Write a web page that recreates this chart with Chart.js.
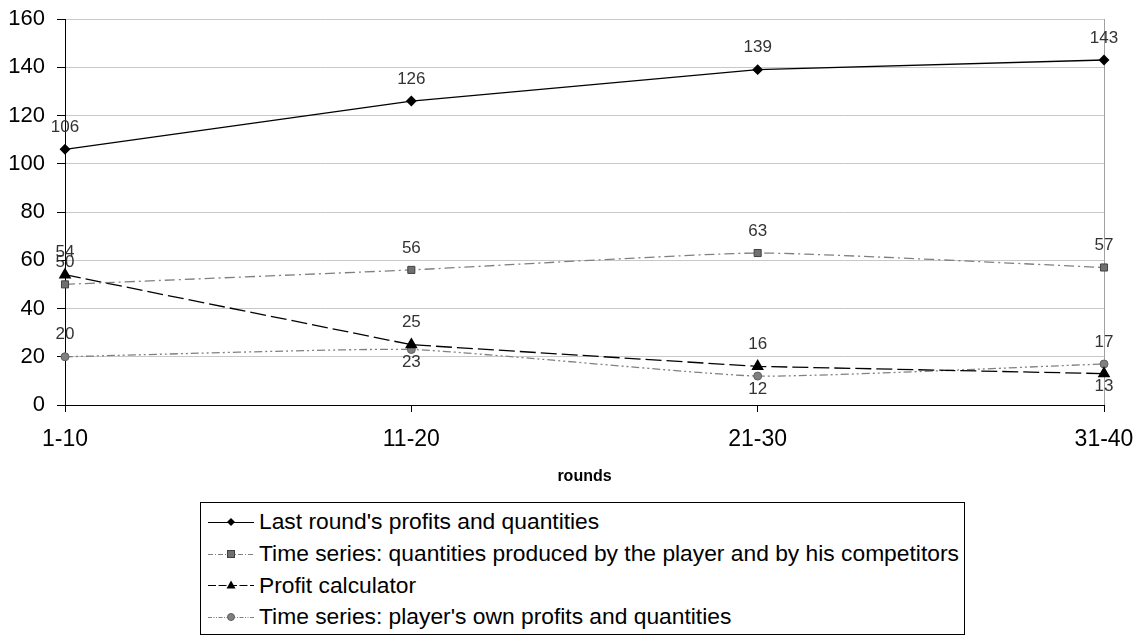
<!DOCTYPE html>
<html>
<head>
<meta charset="utf-8">
<script src="https://cdn.jsdelivr.net/npm/chart.js@4.4.0/dist/chart.umd.min.js"></script>
<style>
  html, body { margin: 0; padding: 0; background: #fff; }
  body { width: 1142px; height: 635px; position: relative; overflow: hidden; font-family: "Liberation Sans", Arial, sans-serif; }
  #wrap { position: absolute; left: 0; top: 0; width: 1142px; height: 495px; }
  #legend { position: absolute; left: 200px; top: 502px; width: 763px; height: 128px; border: 1px solid #000; padding-top: 3px; box-sizing: content-box; }
  .row { height: 31.7px; display: flex; align-items: center; font-size: 22.8px; color: #000; white-space: nowrap; }
  .row svg { margin-left: 7px; margin-right: 5px; flex: none; }
</style>
</head>
<body>
<div id="wrap"><canvas id="chart" width="1142" height="495"></canvas></div>
<div id="legend"></div>
<script>
// data
const rounds = ['1-10', '11-20', '21-30', '31-40'];
const lastRound = [106, 126, 139, 143];
const timeSeriesQty = [50, 56, 63, 57];
const profitCalc = [54, 25, 16, 13];
const timeSeriesOwn = [20, 23, 12, 17];

const seriesNames = [
    "Last round's profits and quantities",
    'Time series: quantities produced by the player and by his competitors',
    'Profit calculator',
    "Time series: player's own profits and quantities"
];

// draws the value labels next to each point
const valueLabels = {
    id: 'valueLabels',
    afterDatasetsDraw(chart) {
        const ctx = chart.ctx;
        ctx.save();
        ctx.font = '17px "Liberation Sans", Arial, sans-serif';
        ctx.fillStyle = '#333';
        ctx.textAlign = 'center';
        ctx.textBaseline = 'middle';
        chart.data.datasets.forEach((ds, i) => {
            const meta = chart.getDatasetMeta(i);
            meta.data.forEach((pt, j) => {
                const below = ds.labelPos && ds.labelPos[j] === 'below';
                ctx.fillText(String(ds.data[j]), pt.x, below ? pt.y + 13 : pt.y - 22);
            });
        });
        ctx.restore();
    }
};

// gray right border of the plot area
const rightBorder = {
    id: 'rightBorder',
    beforeDatasetsDraw(chart) {
        const { ctx, chartArea } = chart;
        ctx.save();
        ctx.strokeStyle = '#a0a0a0';
        ctx.lineWidth = 1;
        ctx.beginPath();
        ctx.moveTo(Math.round(chartArea.right) + 0.5, chartArea.top);
        ctx.lineTo(Math.round(chartArea.right) + 0.5, chartArea.bottom);
        ctx.stroke();
        ctx.restore();
    }
};

const datasets = [
    {
        label: seriesNames[0],
        data: lastRound,
        borderColor: '#000',
        borderWidth: 1.3,
        pointStyle: 'rectRot',
        pointRadius: 4.5,
        pointBackgroundColor: '#000',
        pointBorderColor: '#000',
        tension: 0,
        labelPos: ['above', 'above', 'above', 'above']
    },
    {
        label: seriesNames[1],
        data: timeSeriesQty,
        borderColor: '#808080',
        borderWidth: 1.3,
        borderDash: [10, 4, 2, 4],
        pointStyle: 'rect',
        pointRadius: 5,
        pointBackgroundColor: '#707070',
        pointBorderColor: '#404040',
        pointBorderWidth: 1,
        tension: 0.15,
        labelPos: ['above', 'above', 'above', 'above']
    },
    {
        label: seriesNames[2],
        data: profitCalc,
        borderColor: '#000',
        borderWidth: 1.3,
        borderDash: [16, 5],
        pointStyle: 'triangle',
        pointRadius: 6,
        pointBackgroundColor: '#000',
        pointBorderColor: '#000',
        tension: 0,
        labelPos: ['above', 'above', 'above', 'below']
    },
    {
        label: seriesNames[3],
        data: timeSeriesOwn,
        borderColor: '#808080',
        borderWidth: 1.3,
        borderDash: [8, 3, 2, 3, 2, 3],
        pointStyle: 'circle',
        pointRadius: 4,
        pointBackgroundColor: '#808080',
        pointBorderColor: '#606060',
        pointBorderWidth: 1,
        tension: 0.15,
        labelPos: ['above', 'below', 'below', 'above']
    }
];
datasets.forEach(d => { d.clip = false; d.fill = false; });

const chart = new Chart(document.getElementById('chart'), {
    type: 'line',
    data: { labels: rounds, datasets: datasets },
    options: {
        responsive: false,
        animation: false,
        layout: { padding: { top: 19, right: 38, left: 0, bottom: 0 } },
        plugins: {
            legend: { display: false },
            tooltip: { enabled: false }
        },
        scales: {
            x: {
                offset: false,
                afterFit(scale) {
                    scale.height = 90;
                    scale.paddingLeft = 0;
                    scale.paddingRight = 0;
                },
                grid: { drawOnChartArea: false, tickLength: 7, tickColor: '#000' },
                border: { color: '#000', width: 1 },
                ticks: {
                    padding: 14,
                    color: '#000',
                    maxRotation: 0,
                    font: { family: '"Liberation Sans", Arial, sans-serif', size: 23 }
                },
                title: {
                    display: true,
                    text: 'rounds',
                    color: '#000',
                    padding: { top: 4, bottom: 9 },
                    font: { family: '"Liberation Sans", Arial, sans-serif', size: 16, weight: 'bold' }
                }
            },
            y: {
                min: 0,
                max: 160,
                afterFit(scale) {
                    scale.width = 65;
                    scale.paddingTop = 0;
                    scale.paddingBottom = 0;
                },
                grid: { color: '#c8c8c8', tickLength: 8, tickColor: '#000' },
                border: { color: '#000', width: 1 },
                ticks: {
                    stepSize: 20,
                    padding: 12,
                    color: '#000',
                    font: { family: '"Liberation Sans", Arial, sans-serif', size: 22 }
                }
            }
        }
    },
    plugins: [rightBorder, valueLabels]
});

// html legend with line samples
function sampleSvg(ds) {
    const dash = ds.borderDash ? ds.borderDash.map(v => v * 0.5).join(',') : '';
    let marker = '';
    const c = ds.pointBackgroundColor, b = ds.pointBorderColor;
    if (ds.pointStyle === 'rectRot') marker = `<polygon points="23,7 27,11 23,15 19,11" fill="${c}"/>`;
    if (ds.pointStyle === 'rect') marker = `<rect x="19.5" y="7.5" width="7" height="7" fill="${c}" stroke="${b}"/>`;
    if (ds.pointStyle === 'triangle') marker = `<polygon points="23,6.5 27.5,14.5 18.5,14.5" fill="${c}"/>`;
    if (ds.pointStyle === 'circle') marker = `<circle cx="23" cy="11" r="3.5" fill="${c}" stroke="${b}"/>`;
    return `<svg width="46" height="22"><line x1="0" y1="11.5" x2="46" y2="11.5" stroke="${ds.borderColor}" stroke-width="1.2" ${dash ? `stroke-dasharray="${dash}"` : ''}/>${marker}</svg>`;
}

const legendEl = document.getElementById('legend');
datasets.forEach(ds => {
    const row = document.createElement('div');
    row.className = 'row';
    row.innerHTML = sampleSvg(ds) + '<span>' + ds.label + '</span>';
    legendEl.appendChild(row);
});
</script>
</body>
</html>
